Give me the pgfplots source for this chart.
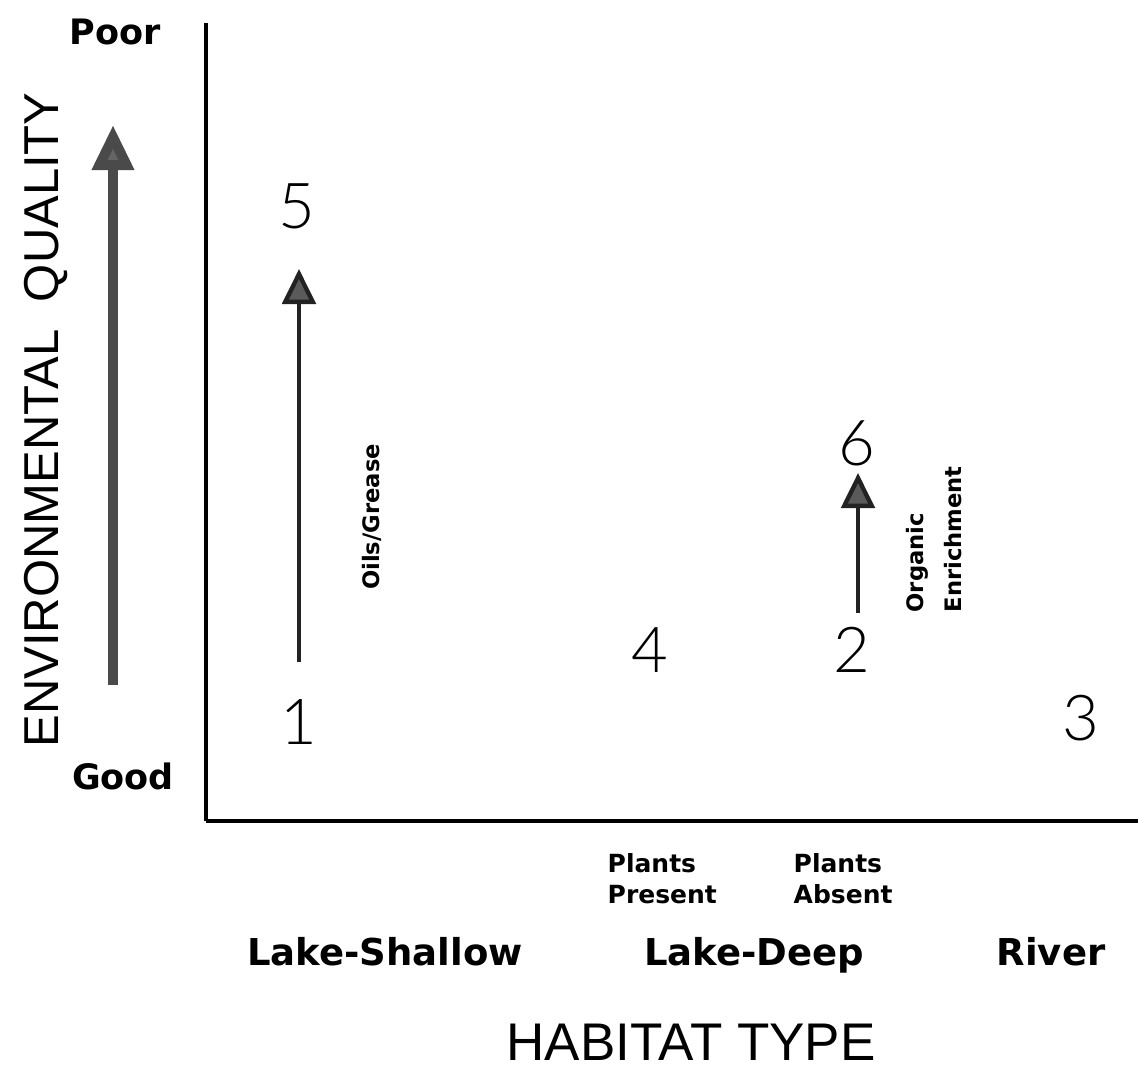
\documentclass[border=0pt]{standalone}
\usepackage{fontspec}
\setmainfont{DejaVu Sans}
\newfontfamily\lib{Liberation Sans}
\newfontfamily\thin{Lato Light}
\usepackage{pgfplots}
\pgfplotsset{compat=1.18}
\usetikzlibrary{arrows.meta}
\definecolor{shaft}{HTML}{222222}
\definecolor{headfill}{HTML}{5A5A5A}
\definecolor{bigarrow}{HTML}{4A4A4A}

\pgfplotstableread{
x y label
299 344 1
852 416 2
1081 348 3
650 416 4
297 860 5
857 623 6
}\numbers

\begin{document}
\begin{tikzpicture}
\begin{axis}[
  scale only axis, width=279.6pt, height=239.4pt,
  xmin=206, xmax=1138, ymin=245, ymax=1043,
  enlargelimits=false,
  axis x line=bottom, axis y line=left,
  axis line style={-, line width=1.1pt, black},
  xtick=\empty, ytick=\empty,
  clip=false,
]
% numbers
\addplot[draw=none, mark=none, nodes near coords, point meta=explicit symbolic,
  nodes near coords style={anchor=center, inner sep=0pt, font=\thin\fontsize{19}{19}\selectfont}]
  table[x=x, y=y, meta=label] {\numbers};
% arrows
\addplot[line width=1.3pt, color=shaft, -{Triangle[width=10pt,length=10.5pt,fill=headfill]}]
  coordinates {(299,404) (299,797)};
\addplot[line width=1.3pt, color=shaft, -{Triangle[width=10pt,length=10.5pt,fill=headfill]}]
  coordinates {(858,453) (858,593)};
\addplot[line width=3pt, color=bigarrow, -{Triangle[width=12pt,length=13.5pt,fill=bigarrow!85]}]
  coordinates {(113,381) (113,941)};
% labels
\node[font=\bfseries\fontsize{10.5}{10.5}\selectfont] at (115,1034) {Poor};
\node[font=\bfseries\fontsize{10.5}{10.5}\selectfont] at (123,290) {Good};
\node[rotate=90, anchor=base, font=\lib\fontsize{14.7}{14.7}\selectfont] at (59,646) {ENVIRONMENTAL\ \ QUALITY};
\node[anchor=base, font=\lib\fontsize{15.9}{15.9}\selectfont] at (691,6) {HABITAT TYPE};
\node[anchor=base, font=\bfseries\fontsize{11.1}{11.1}\selectfont] at (385,101) {Lake-Shallow};
\node[anchor=base, font=\bfseries\fontsize{11.1}{11.1}\selectfont] at (754,101) {Lake-Deep};
\node[anchor=base, font=\bfseries\fontsize{11.1}{11.1}\selectfont] at (1051,101) {River};
\node[anchor=base west, inner sep=0pt, font=\bfseries\fontsize{7.5}{7.5}\selectfont] at (607,194) {Plants};
\node[anchor=base west, inner sep=0pt, font=\bfseries\fontsize{7.5}{7.5}\selectfont] at (607,163) {Present};
\node[anchor=base west, inner sep=0pt, font=\bfseries\fontsize{7.5}{7.5}\selectfont] at (793,194) {Plants};
\node[anchor=base west, inner sep=0pt, font=\bfseries\fontsize{7.5}{7.5}\selectfont] at (793,163) {Absent};
\node[rotate=90, inner sep=0pt, font=\bfseries\fontsize{6.8}{6.8}\selectfont] at (372,549) {Oils/Grease};
\node[rotate=90, anchor=west, inner sep=0pt, font=\bfseries\fontsize{6.8}{6.8}\selectfont] at (917,453) {Organic};
\node[rotate=90, anchor=west, inner sep=0pt, font=\bfseries\fontsize{6.8}{6.8}\selectfont] at (953,453) {Enrichment};
\coordinate (bbsw) at (axis cs:0,0);
\coordinate (bbne) at (axis cs:1138,1066);
\end{axis}
\pgfresetboundingbox
\path[use as bounding box] (bbsw) rectangle (bbne);
\end{tikzpicture}
\end{document}
